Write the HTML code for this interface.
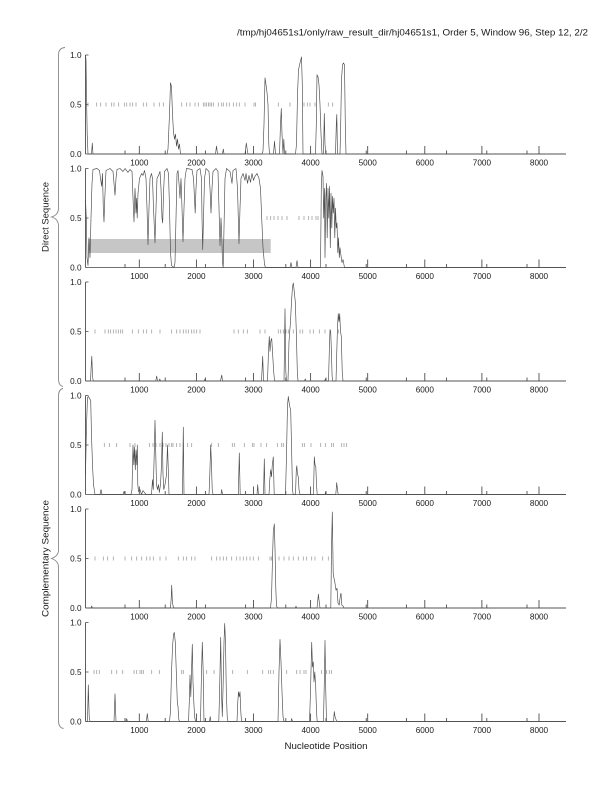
<!DOCTYPE html>
<html><head><meta charset="utf-8"><style>
html,body{margin:0;padding:0;background:#fff;}
svg{display:block;}
text{font-family:"Liberation Sans",Arial,sans-serif;fill:#1a1a1a;}
.yl{font-size:8.2px;text-anchor:end;}
.xl{font-size:8.2px;text-anchor:middle;}
.ax{fill:none;stroke:#444;stroke-width:0.85;}
.ds{fill:none;stroke:#9a9a9a;stroke-width:0.75;}
.ln{fill:none;stroke:#4a4a4a;stroke-width:0.65;stroke-linejoin:round;}
.br{fill:none;stroke:#888;stroke-width:0.9;}
</style></head><body>
<svg width="612" height="792" viewBox="0 0 612 792" xmlns="http://www.w3.org/2000/svg">
<defs>
<path id="ax" class="ax" d="M85.5,0H566 M85.5,0V-99 M85.5,-99h3 M85.5,-49.5h3 M139.3,0v-8 M196.4,0v-8 M253.5,0v-8 M310.6,0v-8 M367.7,0v-8 M424.8,0v-8 M481.9,0v-8 M539,0v-8 M125,0v-3.5 M165.2,0v-3.5 M205.4,0v-3.5 M245.6,0v-3.5 M285.8,0v-3.5 M326,0v-3.5 M366.2,0v-3.5 M406.4,0v-3.5 M446.6,0v-3.5 M486.8,0v-3.5 M527,0v-3.5"/>
</defs>

<text x="588" y="35.5" style="font-size:9px" text-anchor="end" textLength="351" lengthAdjust="spacingAndGlyphs">/tmp/hj04651s1/only/raw_result_dir/hj04651s1, Order 5, Window 96, Step 12, 2/2</text>

<!-- braces -->
<path class="br" d="M65,47.5 Q58.5,48 58.5,55 V208 Q58.5,215 51.5,217 Q58.5,219 58.5,226 V379 Q58.5,385.5 63,386.5"/>
<path class="br" d="M63,388.5 Q58.5,389.5 58.5,396 V550 Q58.5,556 51.5,558.5 Q58.5,561 58.5,567 V721 Q58.5,727.5 63.5,728.5"/>
<text transform="translate(48.5,217) rotate(-90)" text-anchor="middle" style="font-size:9.5px" textLength="70" lengthAdjust="spacingAndGlyphs">Direct Sequence</text>
<text transform="translate(48.5,558.5) rotate(-90)" text-anchor="middle" style="font-size:9.5px" textLength="117" lengthAdjust="spacingAndGlyphs">Complementary Sequence</text>
<text x="326" y="749" text-anchor="middle" style="font-size:9.5px" textLength="83" lengthAdjust="spacingAndGlyphs">Nucleotide Position</text>

<!-- PANEL 1 -->
<g transform="translate(0,154)">
<use href="#ax"/>
<path class="ds" transform="translate(0,-49.5)" d="M88,-2v4M96.7,-2v4M100.7,-2v4M106,-2v4M111.7,-2v4M114,-2v4M118.7,-2v4M124.3,-2v4M126.7,-2v4M130,-2v4M132.7,-2v4M136,-2v4M143.3,-2v4M146.7,-2v4M154,-2v4M159.3,-2v4M163.3,-2v4M181.7,-2v4M186.7,-2v4M190,-2v4M195,-2v4M198.3,-2v4M203.3,-2v4M205,-2v4M206.7,-2v4M208.5,-2v4M210,-2v4M211.5,-2v4M213.3,-2v4M218.3,-2v4M221.7,-2v4M223.3,-2v4M226.7,-2v4M229.3,-2v4M233.3,-2v4M236.7,-2v4M239.3,-2v4M245,-2v4M254,-2v4M255.5,-2v4M278.3,-2v4M290,-2v4M304,-2v4M307.3,-2v4M310,-2v4M315,-2v4M328.3,-2v4M332.7,-2v4"/>
<polyline class="ln" vector-effect="non-scaling-stroke" transform="scale(1,-99)" points="85.5,1.0 86,0.95 86.5,0.6 87.2,0.2 88,0 91.5,0 92.3,0.11 93,0 167,0 168,0.05 169.5,0.4 170.5,0.72 171.5,0.68 172.5,0.4 173.5,0.22 174.5,0.15 175.5,0.2 176.5,0.08 177.5,0.15 178.5,0.05 179.5,0.1 180.5,0 215.5,0 216.5,0.08 217.5,0 222.5,0 223.3,0.05 224,0 245,0 246.3,0.11 247.3,0.04 248,0 262,0 263,0.03 264,0.3 265,0.77 266,0.7 267,0.62 268,0.5 268.8,0.1 269.5,0 273.5,0 274.5,0.13 275.5,0 279.5,0 280.5,0.3 281.3,0.46 282,0.2 283,0 283.8,0.15 284.5,0 295.5,0 296.5,0.1 297.5,0.6 298.5,0.85 300,0.92 301.5,0.98 302.3,0.7 303,0 315.5,0 316.3,0.3 317,0.8 318,0.78 319,0.7 320,0.5 321,0.2 322,0 323.5,0 324.3,0.41 325,0.1 325.7,0 335.5,0 336.3,0.3 336.8,0.4 337.5,0 340,0 340.7,0.3 341.5,0.75 342.5,0.9 343.5,0.92 344.5,0.9 345.3,0.3 346,0 566,0"/>
<text class="yl" x="81.5" y="-96">1.0</text><text class="yl" x="81.5" y="-46.5">0.5</text><text class="yl" x="81.5" y="3">0.0</text>
<text class="xl" x="139.3" y="11.5">1000</text><text class="xl" x="196.4" y="11.5">2000</text><text class="xl" x="253.5" y="11.5">3000</text><text class="xl" x="310.6" y="11.5">4000</text><text class="xl" x="367.7" y="11.5">5000</text><text class="xl" x="424.8" y="11.5">6000</text><text class="xl" x="481.9" y="11.5">7000</text><text class="xl" x="539" y="11.5">8000</text>
</g>

<!-- PANEL 2 -->
<g transform="translate(0,267.5)">
<rect x="88" y="-28.5" width="182.7" height="14" fill="#c6c6c6"/>
<use href="#ax"/>
<path class="ds" transform="translate(0,-49.5)" d="M267,-2v4M270.7,-2v4M274,-2v4M278,-2v4M282,-2v4M287,-2v4M299,-2v4M304,-2v4M308.7,-2v4M312,-2v4M316,-2v4M318,-2v4"/>
<polyline class="ln" vector-effect="non-scaling-stroke" transform="scale(1,-99)" points="85.5,0.68 86.3,0.5 87,0.1 88,0.02 89,0.3 90,0.1 91,0.5 92,0.85 93,0.99 97,1.0 99.5,0.98 100.5,0.9 101.7,0.82 102.5,0.95 103.3,0.6 104,0.46 104.8,0.7 106,0.98 110,1.0 113,0.97 114,0.85 115,0.73 116,0.9 117,0.99 120,1.0 123,0.97 125,1.0 128,0.96 130,0.99 132,0.97 133,0.7 134,0.46 135,0.8 136,0.55 136.6,0.7 137.2,0.5 138,0.75 139.5,0.9 141.7,0.95 143,0.93 144.5,0.98 146,0.9 147,0.6 148,0.23 149,0.6 150,0.9 151.5,0.95 152.5,0.9 153.5,0.6 155,0.25 156,0.6 157,0.9 158.5,0.93 160,0.97 161,0.8 162,0.5 162.7,0.45 163.5,0.75 164.5,0.97 167,1.0 168.5,0.95 169.5,0.6 170.5,0.15 171.5,0.02 174,0 175,0.05 176,0.5 177,0.95 178,0.98 179,0.85 180,0.7 181,0.9 182,0.6 183,0.26 184,0.6 185,0.9 186.5,1.0 192,0.99 193.5,0.9 194.5,0.7 195.2,0.55 196,0.8 197,0.98 200,1.0 201.5,0.9 202,0.5 202.7,0.18 203.5,0.5 204.5,0.9 206,1.0 209,0.97 210,0.8 211,0.55 212,0.8 213,0.97 216,1.0 218,0.97 219,0.6 220,0.22 221,0.5 221.8,0.3 222.5,0.05 223.2,0 224,0.4 225,0.9 226.5,1.0 230,0.97 232,0.85 233,0.98 236,1.0 237.5,0.8 238.3,0.5 239,0.24 240,0.6 241,0.9 243,0.95 245,0.88 246,0.95 247.5,0.85 249,0.93 250.5,0.86 252,0.95 253.5,0.88 255,0.92 257,0.95 259,0.9 260.5,0.8 261.7,0.5 263,0.2 264.5,0.03 265.5,0 290,0 291,0.05 292,0 296,0 297,0.07 298,0 320.5,0 321.3,0.8 322,0.98 323,0.92 323.7,0.5 324.5,0.8 325,0.1 325.8,0.7 326.5,0.85 327.2,0.3 328,0.8 328.8,0.5 329.5,0.82 330.3,0.2 331,0.75 331.8,0.4 332.5,0.72 333.3,0.55 334,0.7 334.8,0.3 335.5,0.6 336.3,0.4 337,0.45 337.8,0.15 338.5,0.3 339.3,0.1 340,0.2 341,0.12 342,0.05 343,0.08 344.5,0 566,0"/>
<text class="yl" x="81.5" y="-96">1.0</text><text class="yl" x="81.5" y="-46.5">0.5</text><text class="yl" x="81.5" y="3">0.0</text>
<text class="xl" x="139.3" y="11.5">1000</text><text class="xl" x="196.4" y="11.5">2000</text><text class="xl" x="253.5" y="11.5">3000</text><text class="xl" x="310.6" y="11.5">4000</text><text class="xl" x="367.7" y="11.5">5000</text><text class="xl" x="424.8" y="11.5">6000</text><text class="xl" x="481.9" y="11.5">7000</text><text class="xl" x="539" y="11.5">8000</text>
</g>

<!-- PANEL 3 -->
<g transform="translate(0,381)">
<use href="#ax"/>
<path class="ds" transform="translate(0,-49.5)" d="M95,-2v4M105,-2v4M108.3,-2v4M110.7,-2v4M113.3,-2v4M116,-2v4M118.3,-2v4M120.7,-2v4M122.7,-2v4M132.3,-2v4M138.3,-2v4M143.3,-2v4M146.7,-2v4M151.7,-2v4M160,-2v4M171.7,-2v4M176.7,-2v4M180,-2v4M183.3,-2v4M186,-2v4M188.3,-2v4M191.7,-2v4M194,-2v4M196.7,-2v4M200,-2v4M234,-2v4M238.3,-2v4M243.3,-2v4M247.3,-2v4M260,-2v4M265,-2v4M278.3,-2v4M280.7,-2v4M283.3,-2v4M286,-2v4M288.3,-2v4M293.3,-2v4M300,-2v4M302.7,-2v4M310,-2v4M313.3,-2v4M319.3,-2v4M325,-2v4M338.3,-2v4"/>
<polyline class="ln" vector-effect="non-scaling-stroke" transform="scale(1,-99)" points="85.5,0 90.5,0 91.2,0.15 91.8,0.25 92.5,0.05 93.2,0 155.8,0 156.7,0.05 157.5,0 159,0 159.8,0.02 160.5,0 204,0 205,0.02 206,0 220.5,0 221.3,0.04 221.8,0.06 222.5,0 261.5,0 262.7,0.25 263.5,0 267.5,0 268.5,0.3 269.3,0.45 270,0.3 270.8,0.4 271.7,0.43 272.5,0.3 273.5,0.12 274.5,0 284,0 285,0.73 285.8,0.1 286.5,0 288,0 289,0.4 290.5,0.6 291.5,0.8 292.5,0.95 293.3,0.99 294.3,0.9 295.3,0.8 296.3,0.5 297.3,0.1 298,0 304.5,0 305.3,0.02 306,0 324.5,0 325.3,0.02 326,0 328.5,0 329.3,0.3 330,0.52 330.7,0.5 331.4,0.3 332.1,0.05 332.8,0 336,0 336.8,0.3 337.5,0.55 338.3,0.68 339,0.6 339.7,0.68 340.5,0.5 341.3,0.45 342.2,0.1 343,0 566,0"/>
<text class="yl" x="81.5" y="-96">1.0</text><text class="yl" x="81.5" y="-46.5">0.5</text><text class="yl" x="81.5" y="3">0.0</text>
<text class="xl" x="139.3" y="11.5">1000</text><text class="xl" x="196.4" y="11.5">2000</text><text class="xl" x="253.5" y="11.5">3000</text><text class="xl" x="310.6" y="11.5">4000</text><text class="xl" x="367.7" y="11.5">5000</text><text class="xl" x="424.8" y="11.5">6000</text><text class="xl" x="481.9" y="11.5">7000</text><text class="xl" x="539" y="11.5">8000</text>
</g>

<!-- PANEL 4 -->
<g transform="translate(0,494.5)">
<use href="#ax"/>
<path class="ds" transform="translate(0,-49.5)" d="M104.3,-2v4M109.3,-2v4M116.7,-2v4M130,-2v4M135,-2v4M149.3,-2v4M153,-2v4M156,-2v4M160,-2v4M163,-2v4M166,-2v4M169,-2v4M171.7,-2v4M173,-2v4M176.7,-2v4M180,-2v4M183.3,-2v4M187.7,-2v4M191.7,-2v4M211.7,-2v4M218.3,-2v4M232.3,-2v4M234.3,-2v4M244.3,-2v4M252.3,-2v4M254,-2v4M261,-2v4M266.7,-2v4M277.3,-2v4M281.7,-2v4M283.3,-2v4M302.3,-2v4M304.3,-2v4M311,-2v4M320.7,-2v4M325.3,-2v4M331.7,-2v4M333.3,-2v4M341.7,-2v4M344,-2v4M346.7,-2v4"/>
<polyline class="ln" vector-effect="non-scaling-stroke" transform="scale(1,-99)" points="85.5,0.2 86.5,0.7 87.5,0.98 88.5,0.99 89.5,0.97 90.7,0.95 91.5,0.6 92.5,0.3 93.5,0.1 95,0 100,0 101,0.05 102,0 123,0 124,0.03 125,0 131,0 132,0.05 133,0.5 133.8,0.3 134.5,0.48 135.3,0.25 136,0.45 136.8,0.3 137.3,0.5 137.8,0.1 138.5,0.03 140,0.05 141.5,0 143,0.04 144.5,0.02 146,0 151.5,0 152.5,0.15 153.3,0.05 154.2,0.4 155,0.75 155.8,0.4 156.5,0.1 157.5,0.05 158.5,0.1 159.3,0.02 160.5,0.1 161.5,0.3 162.3,0.63 163,0.2 163.8,0.05 165,0.1 166.5,0.2 167.5,0.5 168.3,0.25 169,0 182.5,0 183.3,0.68 184,0 209,0 209.8,0.2 210.7,0.5 211.5,0.3 212.2,0.05 213,0 221,0 221.7,0.05 222.5,0 238.3,0 239.3,0.42 240.2,0 257,0 257.7,0.1 258.4,0 263.5,0 264.3,0.36 265,0 269,0 269.8,0.15 270.7,0.25 271.5,0.18 272.3,0.3 273.3,0.38 274.2,0 285.5,0 286.5,0.4 287.5,0.9 288.3,0.99 289.5,0.9 290.7,0.85 291.5,0.5 292.5,0.05 293.2,0 295.5,0 296.3,0.25 296.8,0.29 297.5,0.2 298.3,0.18 299,0.05 300,0 313.5,0 314.3,0.38 315,0.3 315.8,0.28 316.5,0.1 317.2,0 325,0 325.7,0.03 326.3,0 335.8,0 336.7,0.12 337.5,0.05 338.2,0 566,0"/>
<text class="yl" x="81.5" y="-96">1.0</text><text class="yl" x="81.5" y="-46.5">0.5</text><text class="yl" x="81.5" y="3">0.0</text>
<text class="xl" x="139.3" y="11.5">1000</text><text class="xl" x="196.4" y="11.5">2000</text><text class="xl" x="253.5" y="11.5">3000</text><text class="xl" x="310.6" y="11.5">4000</text><text class="xl" x="367.7" y="11.5">5000</text><text class="xl" x="424.8" y="11.5">6000</text><text class="xl" x="481.9" y="11.5">7000</text><text class="xl" x="539" y="11.5">8000</text>
</g>

<!-- PANEL 5 -->
<g transform="translate(0,608)">
<use href="#ax"/>
<path class="ds" transform="translate(0,-49.5)" d="M95,-2v4M103.3,-2v4M107.7,-2v4M113.3,-2v4M125,-2v4M131.7,-2v4M136.7,-2v4M141.7,-2v4M146.7,-2v4M150,-2v4M153.3,-2v4M160,-2v4M166,-2v4M178.3,-2v4M183.3,-2v4M186.7,-2v4M191.7,-2v4M195,-2v4M211.7,-2v4M216.7,-2v4M220,-2v4M223.3,-2v4M226.7,-2v4M231.7,-2v4M236.7,-2v4M240,-2v4M243.3,-2v4M246.7,-2v4M250,-2v4M253.3,-2v4M258.3,-2v4M270,-2v4M271.7,-2v4M279,-2v4M284,-2v4M289,-2v4M293.3,-2v4M298.3,-2v4M303.3,-2v4M306.7,-2v4M311.7,-2v4M315,-2v4M322.7,-2v4M328.3,-2v4"/>
<polyline class="ln" vector-effect="non-scaling-stroke" transform="scale(1,-99)" points="85.5,0 91,0 91.7,0.02 92.4,0 170.5,0 171.2,0.1 171.7,0.23 172.3,0.08 173,0.02 174,0 270.5,0 271.5,0.1 272.5,0.5 273.3,0.77 274.3,0.85 275,0.6 275.8,0.2 276.5,0.02 277.5,0 295.5,0 296,0.02 296.5,0 317,0 318,0.1 318.4,0.14 319,0.08 320,0 330.8,0 331.5,0.6 332.3,0.97 333.2,0.35 334,0.3 335,0.25 336,0.18 337,0.2 338,0.05 339.2,0.03 340.3,0.12 341,0.15 341.8,0.03 343,0.02 344,0 566,0"/>
<text class="yl" x="81.5" y="-96">1.0</text><text class="yl" x="81.5" y="-46.5">0.5</text><text class="yl" x="81.5" y="3">0.0</text>
<text class="xl" x="139.3" y="11.5">1000</text><text class="xl" x="196.4" y="11.5">2000</text><text class="xl" x="253.5" y="11.5">3000</text><text class="xl" x="310.6" y="11.5">4000</text><text class="xl" x="367.7" y="11.5">5000</text><text class="xl" x="424.8" y="11.5">6000</text><text class="xl" x="481.9" y="11.5">7000</text><text class="xl" x="539" y="11.5">8000</text>
</g>

<!-- PANEL 6 -->
<g transform="translate(0,721.5)">
<use href="#ax"/>
<path class="ds" transform="translate(0,-49.5)" d="M94,-2v4M96.7,-2v4M99.3,-2v4M111.7,-2v4M116.7,-2v4M122.7,-2v4M134,-2v4M136.7,-2v4M140,-2v4M141.7,-2v4M143.3,-2v4M151.7,-2v4M159.3,-2v4M181.7,-2v4M183.3,-2v4M206.7,-2v4M214,-2v4M232.7,-2v4M247.3,-2v4M262.7,-2v4M268.3,-2v4M270.7,-2v4M273.3,-2v4M286.7,-2v4M296.7,-2v4M300,-2v4M304,-2v4M306,-2v4M321.7,-2v4M326.7,-2v4M329.3,-2v4M331.7,-2v4"/>
<polyline class="ln" vector-effect="non-scaling-stroke" transform="scale(1,-99)" points="85.5,0 87.5,0 88.3,0.37 89.2,0.05 90,0 114,0 115,0.28 116,0 126,0 126.7,0.03 127.4,0 146.3,0 147.3,0.08 148.2,0 169.5,0 170.5,0.1 171.5,0.5 172.5,0.75 173.5,0.88 174.3,0.9 175.3,0.8 176.3,0.5 177.3,0.2 178,0.15 178.8,0.02 179.5,0 188.5,0 189.3,0.2 190,0.47 190.8,0.25 191.5,0.5 192.3,0.78 193,0.4 193.8,0.2 194.6,0.05 195.5,0 200.5,0 201.3,0.4 202.3,0.8 203.2,0.5 204,0 209.5,0 210.2,0.05 210.9,0 218.8,0 219.8,0.4 220.7,0.85 221.5,0.3 222.3,0.05 223.2,0.4 224,0.8 224.7,0.99 225.5,0.8 226.3,0.3 227.2,0.05 228,0 237,0 237.8,0.2 238.5,0.3 239.2,0.25 240,0.3 240.8,0.1 241.5,0 278,0 279,0.5 280,0.83 281,0.6 282,0.3 283,0.05 284,0 291,0 291.7,0.03 292.4,0 309.5,0 310.5,0.3 311.7,0.8 312.5,0.55 313.3,0.6 314,0.4 314.8,0.5 315.7,0.35 316.5,0.1 317.2,0 323.5,0 324.3,0.4 325,0.82 325.8,0.3 326.5,0 333.5,0 334.3,0.1 335,0.05 336,0.02 337,0 566,0"/>
<text class="yl" x="81.5" y="-96">1.0</text><text class="yl" x="81.5" y="-46.5">0.5</text><text class="yl" x="81.5" y="3">0.0</text>
<text class="xl" x="139.3" y="11.5">1000</text><text class="xl" x="196.4" y="11.5">2000</text><text class="xl" x="253.5" y="11.5">3000</text><text class="xl" x="310.6" y="11.5">4000</text><text class="xl" x="367.7" y="11.5">5000</text><text class="xl" x="424.8" y="11.5">6000</text><text class="xl" x="481.9" y="11.5">7000</text><text class="xl" x="539" y="11.5">8000</text>
</g>
</svg>
</body></html>
